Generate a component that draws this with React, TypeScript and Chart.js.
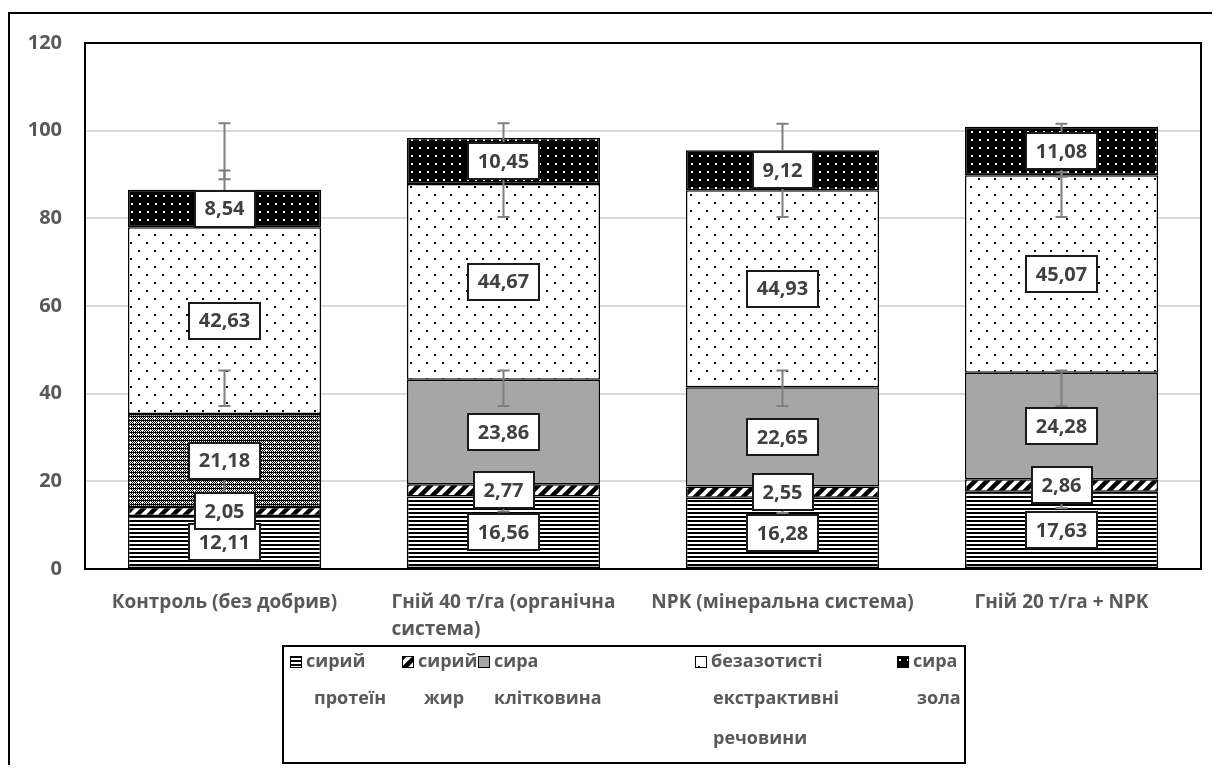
import React, { useEffect, useRef } from 'react';
import { Chart, registerables } from 'chart.js';

Chart.register(...registerables);

// ---------- data ----------
const categories: string[][] = [
  ['Контроль (без добрив)'],
  ['Гній 40 т/га (органічна', 'система)'],
  ['NPK (мінеральна система)'],
  ['Гній 20 т/га + NPK'],
];
const protein = [12.11, 16.56, 16.28, 17.63];
const fat = [2.05, 2.77, 2.55, 2.86];
const fibre = [21.18, 23.86, 22.65, 24.28];
const extractive = [42.63, 44.67, 44.93, 45.07];
const ash = [8.54, 10.45, 9.12, 11.08];

const seriesNames: string[][] = [
  ['сирий', 'протеїн'],
  ['сирий', 'жир'],
  ['сира', 'клітковина'],
  ['безазотисті', 'екстрактивні', 'речовини'],
  ['сира', 'зола'],
];

// error bars (low / high ends)
const errLowA = [37.2, 37.2, 37.2, 37.2];
const errHighA = [45.3, 45.3, 45.3, 45.3];
const errLowB = [80.3, 80.3, 80.3, 80.3];
const errHighB = [101.7, 101.7, 101.6, 101.6];
const errLowC = [88.9, 89.2, 89.2, 89.5];
const errHighC = [90.9, 90.7, 90.7, 90.5];
const errLowD = [13.0, 13.1, 12.8, 13.9];
const errHighD = [21.0, 21.0, 21.0, 21.0];

const yMin = 0;
const yMax = 120;
const yStep = 20;

const FONT = '"Open Sans", "Noto Sans", sans-serif';
const TEXT_GREY = '#595959';

function fmt(v: number) {
  return v.toFixed(2).replace('.', ',');
}

function tile(
  target: CanvasRenderingContext2D,
  w: number,
  h: number,
  draw: (c: CanvasRenderingContext2D) => void
): CanvasPattern {
  const cv = document.createElement('canvas');
  cv.width = w;
  cv.height = h;
  const c = cv.getContext('2d')!;
  draw(c);
  return target.createPattern(cv, 'repeat')!;
}

function makePatterns(ctx: CanvasRenderingContext2D) {
  const proteinP = tile(ctx, 4, 4, (c) => {
    c.fillStyle = '#fff';
    c.fillRect(0, 0, 4, 4);
    c.fillStyle = '#000';
    c.fillRect(0, 0, 4, 2);
  });
  const fatP = tile(ctx, 12, 12, (c) => {
    c.fillStyle = '#fff';
    c.fillRect(0, 0, 12, 12);
    c.strokeStyle = '#000';
    c.lineWidth = 4.5;
    c.beginPath();
    for (const k of [-12, 0, 12, 24]) {
      c.moveTo(k - 2, 14);
      c.lineTo(k + 14, -2);
    }
    c.stroke();
  });
  const fibreDotP = tile(ctx, 8, 8, (c) => {
    c.fillStyle = '#fff';
    c.fillRect(0, 0, 8, 8);
    c.fillStyle = '#000';
    for (let y = 0; y < 8; y++) {
      for (let x = 0; x < 8; x++) {
        if ((x + y) % 2 === 0 || (x % 2 === 1 && y % 4 === 0)) c.fillRect(x, y, 1, 1);
      }
    }
    c.fillStyle = '#fff';
    const plus = (px: number, py: number) => {
      c.fillRect(px - 1, py, 3, 1);
      c.fillRect(px, py - 1, 1, 3);
    };
    plus(2, 2);
    plus(6, 6);
  });
  const extractP = tile(ctx, 16, 16, (c) => {
    c.fillStyle = '#fff';
    c.fillRect(0, 0, 16, 16);
    c.fillStyle = '#000';
    c.fillRect(2, 2, 2, 2);
    c.fillRect(10, 10, 2, 2);
  });
  const ashP = tile(ctx, 8, 8, (c) => {
    c.fillStyle = '#000';
    c.fillRect(0, 0, 8, 8);
    c.fillStyle = '#fff';
    c.fillRect(3, 3, 2, 2);
  });
  return { proteinP, fatP, fibreDotP, extractP, ashP };
}

export default function App() {
  const canvasRef = useRef<HTMLCanvasElement | null>(null);

  useEffect(() => {
    document.body.style.overflow = 'hidden';
    const canvas = canvasRef.current!;
    const ctx0 = canvas.getContext('2d')!;
    const P = makePatterns(ctx0);

    const legendFills: (string | CanvasPattern)[] = [P.proteinP, P.fatP, '#a6a6a6', P.extractP, P.ashP];

    const errorSets: [number[], number[]][] = [
      [errLowA, errHighA],
      [errLowB, errHighB],
      [errLowC, errHighC],
      [errLowD, errHighD],
    ];

    const overlay = {
      id: 'overlay',
      afterDatasetsDraw(chart: any) {
        const ctx: CanvasRenderingContext2D = chart.ctx;
        const xs = chart.scales.x;
        const ys = chart.scales.y;
        ctx.save();
        // error bars
        ctx.strokeStyle = '#7f7f7f';
        ctx.lineWidth = 2;
        errorSets.forEach(([lo, hi]) => {
          lo.forEach((l, i) => {
            const cx = xs.getPixelForValue(i);
            const y1 = ys.getPixelForValue(l);
            const y2 = ys.getPixelForValue(hi[i]);
            ctx.beginPath();
            ctx.moveTo(cx, y1);
            ctx.lineTo(cx, y2);
            ctx.moveTo(cx - 6, y1);
            ctx.lineTo(cx + 6, y1);
            ctx.moveTo(cx - 6, y2);
            ctx.lineTo(cx + 6, y2);
            ctx.stroke();
          });
        });
        // data labels
        ctx.font = `bold 20px ${FONT}`;
        ctx.textAlign = 'center';
        ctx.textBaseline = 'middle';
        chart.data.datasets.forEach((ds: any, di: number) => {
          const meta = chart.getDatasetMeta(di);
          meta.data.forEach((el: any, i: number) => {
            const { x: cx, y: cy } = el.getCenterPoint();
            const text = fmt(ds.data[i]);
            const w = Math.round(ctx.measureText(text).width + 20);
            const h = 36;
            const bx = Math.round(cx - w / 2);
            const by = Math.round(cy - h / 2);
            ctx.fillStyle = '#fff';
            ctx.fillRect(bx, by, w, h);
            ctx.strokeStyle = '#1a1a1a';
            ctx.lineWidth = 2;
            ctx.strokeRect(bx, by, w, h);
            ctx.fillStyle = '#404040';
            ctx.fillText(text, cx, cy + 1);
          });
        });
        ctx.restore();
      },
      afterDraw(chart: any) {
        const ctx: CanvasRenderingContext2D = chart.ctx;
        const a = chart.chartArea;
        const xs = chart.scales.x;
        ctx.save();
        // plot border
        ctx.strokeStyle = '#000';
        ctx.lineWidth = 2;
        ctx.strokeRect(a.left, a.top, a.right - a.left, a.bottom - a.top);

        // category labels (left aligned lines, block centred)
        ctx.font = `bold 19px ${FONT}`;
        ctx.fillStyle = TEXT_GREY;
        ctx.textAlign = 'left';
        ctx.textBaseline = 'middle';
        categories.forEach((lines, i) => {
          const cx = xs.getPixelForValue(i);
          const maxW = Math.max(...lines.map((l) => ctx.measureText(l).width));
          lines.forEach((l, li) => {
            ctx.fillText(l, cx - maxW / 2, a.bottom + 34 + li * 27);
          });
        });

        // legend
        ctx.font = `bold 18px ${FONT}`;
        const lx = 275, ly = 638, lw = 682, lh = 117;
        ctx.strokeStyle = '#000';
        ctx.lineWidth = 2;
        ctx.strokeRect(lx, ly, lw, lh);
        const itemX = [282, 394, 470, 687, 889];
        const lineY = [654, 691, 731];
        const indent = [8, 6, 0, 2, 4];
        seriesNames.forEach((lines, i) => {
          const mx = itemX[i];
          ctx.fillStyle = legendFills[i] as any;
          ctx.fillRect(mx, lineY[0] - 6, 12, 12);
          ctx.strokeStyle = '#000';
          ctx.lineWidth = 1;
          ctx.strokeRect(mx + 0.5, lineY[0] - 5.5, 11, 11);
          ctx.fillStyle = TEXT_GREY;
          lines.forEach((t, li) => {
            ctx.fillText(t, mx + 16 + (li > 0 ? indent[i] : 0), lineY[li]);
          });
        });
        ctx.restore();
      },
    };

    const chart = new Chart(canvas, {
      type: 'bar',
      data: {
        labels: categories.map((c) => c.join(' ')),
        datasets: [
          { label: seriesNames[0].join(' '), data: protein, backgroundColor: P.proteinP as any },
          { label: seriesNames[1].join(' '), data: fat, backgroundColor: P.fatP as any },
          {
            label: seriesNames[2].join(' '),
            data: fibre,
            backgroundColor: [P.fibreDotP, '#a6a6a6', '#a6a6a6', '#a6a6a6'] as any,
          },
          { label: seriesNames[3].join(' '), data: extractive, backgroundColor: P.extractP as any },
          { label: seriesNames[4].join(' '), data: ash, backgroundColor: P.ashP as any },
        ].map((d) => ({
          ...d,
          borderColor: '#000',
          borderWidth: 1.5,
          borderSkipped: false,
          categoryPercentage: 1,
          barPercentage: 0.692,
        })),
      },
      options: {
        responsive: false,
        animation: false,
        events: [],
        layout: { padding: { left: 0, top: 33, right: 11, bottom: 0 } },
        plugins: {
          legend: { display: false },
          tooltip: { enabled: false },
          title: { display: false },
        },
        scales: {
          x: {
            stacked: true,
            grid: { display: false },
            border: { display: false },
            ticks: { display: false },
            afterFit: (s: any) => {
              s.height = 196;
            },
          },
          y: {
            stacked: true,
            min: yMin,
            max: yMax,
            ticks: {
              stepSize: yStep,
              padding: 23,
              color: TEXT_GREY,
              font: { family: FONT, size: 20, weight: 'bold' },
            },
            grid: { color: '#d9d9d9', lineWidth: 2, drawTicks: false },
            border: { display: false },
            afterFit: (s: any) => {
              s.width = 77;
            },
          },
        },
      },
      plugins: [overlay],
    } as any);

    return () => chart.destroy();
  }, []);

  return (
    <div style={{ position: 'relative', width: 1204, height: 757, overflow: 'hidden' }}>
      <div
        style={{
          position: 'absolute',
          left: 0,
          top: 4,
          width: 1400,
          height: 1000,
          border: '2px solid #000',
          boxSizing: 'border-box',
        }}
      />
      <canvas
        ref={canvasRef}
        width={1204}
        height={757}
        style={{ position: 'absolute', left: 0, top: 0, width: 1204, height: 757 }}
      />
    </div>
  );
}
